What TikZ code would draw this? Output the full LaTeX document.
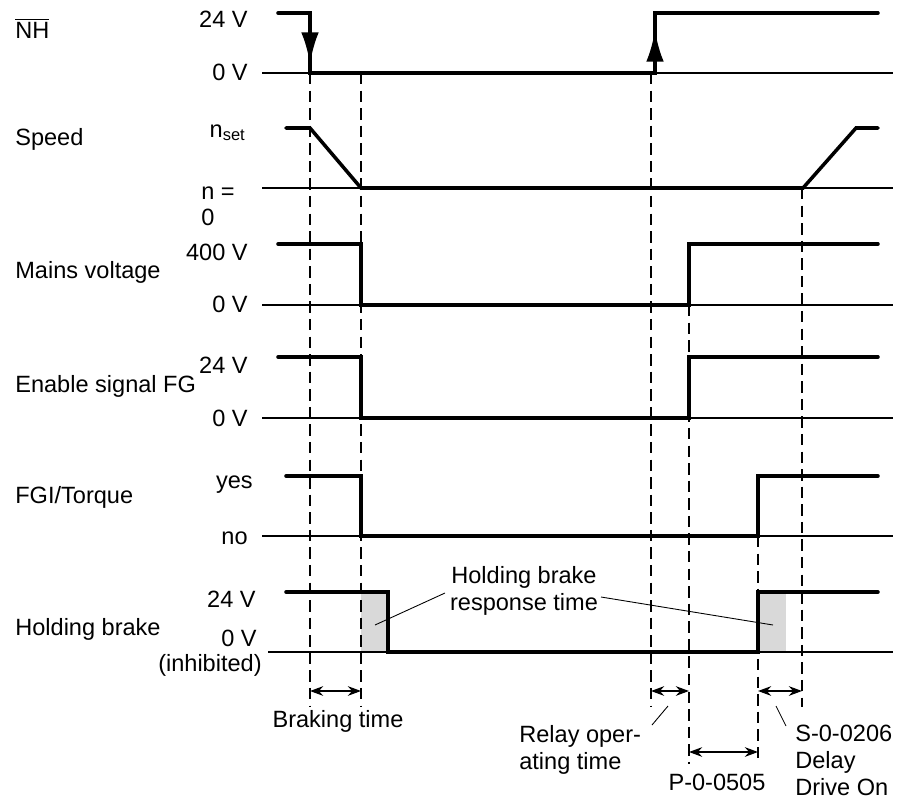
\documentclass[tikz,border=0pt]{standalone}
\usepackage{fontspec}
\setmainfont{Liberation Sans}
\usepackage{tikz}
\usetikzlibrary{arrows.meta}

\begin{document}
\begin{tikzpicture}[
    x=0.02cm, y=-0.02cm,
    font=\fontsize{13.4}{15.3}\selectfont,
    signal/.style={line width=2pt, line cap=round},
    zeroline/.style={line width=0.6pt},
    guide/.style={line width=0.6pt, dash pattern=on 6.5pt off 3.5pt},
    timespan/.style={{Stealth[length=7.5pt,width=5.5pt]}-{Stealth[length=7.5pt,width=5.5pt]}, line width=0.7pt},
    leader/.style={line width=0.5pt},
    nharrow/.style={line width=2pt, -{Latex[length=18pt,width=10pt]}},
    sname/.style={inner sep=0pt, anchor=base west},
    lvl/.style={inner sep=0pt, anchor=base east},
    note/.style={inner sep=0pt, align=left, anchor=north west}
  ]
    \useasboundingbox (0,0) rectangle (909,801);

    % response time of the brake
    \fill[black!15] (361,592) rectangle (388,652);
    \fill[black!15] (758,592) rectangle (786,652);

    % dashed time marks
    \draw[guide] (310,73) -- (310,706);
    \draw[guide] (361,73) -- (361,706);
    \draw[guide] (651,73) -- (651,706);
    \draw[guide] (689,305) -- (689,764);
    \draw[guide] (758,536) -- (758,764);
    \draw[guide] (802,188) -- (802,707);

    % zero lines
    \foreach \y in {73,188,305,418,536}
      \draw[zeroline] (262,\y) -- (893,\y);
    \draw[zeroline] (268,652) -- (893,652);

    % signals
    \draw[signal] (278,13) -| (310,73) -| (655,13) -- (878,13);
    \draw[nharrow] (310,28) -- (310,64);
    \draw[nharrow] (655,64) -- (655,30);
    \draw[signal] (286,128) -- (310,128) -- (361,188) -- (803,188)
      -- (856,128) -- (878,128);
    \draw[signal] (278,244) -| (361,305) -| (689,244) -- (878,244);
    \draw[signal] (278,357) -| (361,418) -| (689,357) -- (878,357);
    \draw[signal] (286,476) -| (361,536) -| (758,476) -- (878,476);
    \draw[signal] (286,592) -| (388,652) -| (758,592) -- (878,592);

    % signal names
    \node[sname] (nh) at (15,38) {$\overline{\mbox{NH}}$};
    \node[sname] (speed) at (15,145) {Speed};
    \node[sname] (mains) at (15,278) {Mains voltage};
    \node[sname] (enable) at (15,392) {Enable signal FG};
    \node[sname] (fgi) at (15,503) {FGI/Torque};
    \node[sname] (brake) at (15,635) {Holding brake};

    % levels
    \node[lvl] (nhhi) at (248,28) {24 V};
    \node[lvl] (nhlo) at (248,80) {0 V};
    \node[lvl] (nset) at (246,137) {n\textsubscript{set}};
    \node[note] (nzero) at (201,186) {n =\\0};
    \node[lvl] (mainshi) at (248,260) {400 V};
    \node[lvl] (mainslo) at (248,312) {0 V};
    \node[lvl] (enhi) at (248,373) {24 V};
    \node[lvl] (enlo) at (248,426) {0 V};
    \node[lvl] (fgihi) at (253,488) {yes};
    \node[lvl] (fgilo) at (248,544) {no};
    \node[lvl] (brhi) at (256,607) {24 V};
    \node[lvl] (brlo) at (257,646) {0 V};
    \node[lvl] (brinh) at (262,671) {(inhibited)};

    % times
    \draw[timespan] (310,691) -- (361,691);
    \draw[timespan] (651,691) -- (689,691);
    \draw[timespan] (758,691) -- (802,691);
    \draw[timespan] (689,752) -- (758,752);

    \node[inner sep=0pt, anchor=base] (braking) at (338,727) {Braking time};
    \node[inner sep=0pt, anchor=base] (p0505) at (717,790) {P-0-0505};
    \node[note] (relay) at (519,725) {Relay oper-\\ating time};
    \node[note] (s0206) at (795,725) {S-0-0206\\Delay\\Drive On};
    \node[note, align=center, anchor=north] (response) at (524,566)
      {Holding brake\\response time};

    \draw[leader] (445,593) -- (375,625);
    \draw[leader] (601,597) -- (773,625);
    \draw[leader] (668,706) -- (652,725);
    \draw[leader] (776,706) -- (786,726);
  \end{tikzpicture}
\end{document}
